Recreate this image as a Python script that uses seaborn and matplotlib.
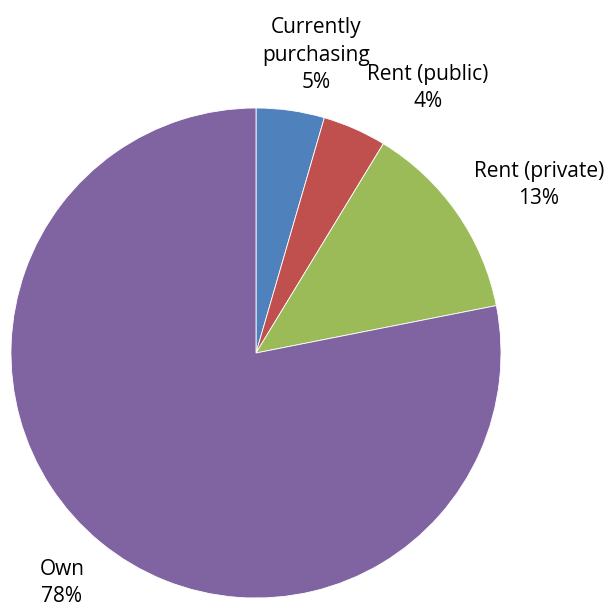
import matplotlib
matplotlib.use("Agg")
import matplotlib.pyplot as plt
import seaborn as sns

# Housing tenure shares (percent), clockwise from the top
categories = ["Currently\npurchasing", "Rent (public)", "Rent (private)", "Own"]
shares = [4.5, 4.2, 13.2, 78.1]
colors = ["#4F81BD", "#C0504D", "#9BBB59", "#8064A2"]

sns.set_theme(style="white")
plt.rcParams["font.family"] = ["Open Sans", "DejaVu Sans"]

W, H = 609, 608
fig = plt.figure(figsize=(W / 100, H / 100), dpi=100)
ax = fig.add_axes([0, 0, 1, 1])

ax.pie(shares, colors=colors, startangle=90, counterclock=False,
       center=(256, H - 353), radius=245,
       wedgeprops=dict(edgecolor="white", linewidth=0.6), frame=True)
ax.set_xlim(0, W)
ax.set_ylim(0, H)
ax.set_aspect("equal")
ax.axis("off")

# label positions (pixel centres, measured from top)
label_pos = [(316, 55), (428, 88), (539, 185), (62, 583)]
for name, val, (x, y) in zip(categories, shares, label_pos):
    ax.text(x, H - y, f"{name}\n{int(val + 0.5)}%", ha="center", va="center",
            fontsize=15, linespacing=1.4, color="black")

fig.savefig("out.png", dpi=100)
